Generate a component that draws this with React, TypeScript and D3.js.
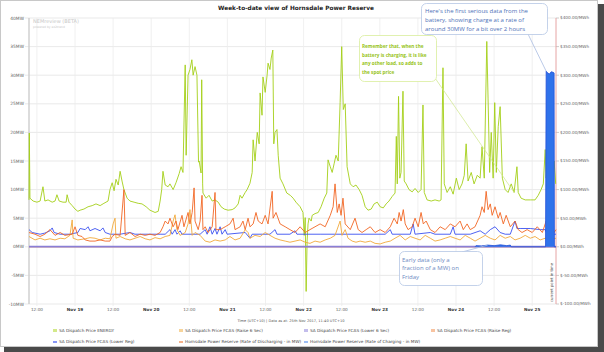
import React, { useEffect, useRef } from "react";
import * as d3 from "d3";

// hours after 18 Nov 2017 00:00 (UTC+10), value
const energy: [number, number][] = [
	[9.5, 82], [9.6, 199], [9.8, 85], [10.8, 80], [12.0, 78], [13.0, 80], [13.9, 105], [14.5, 80], [15.5, 82],
	[16.8, 78], [17.7, 80], [18.3, 91], [19.0, 80], [20.2, 78], [21.2, 78], [21.5, 91], [22.1, 78], [23.1, 72],
	[24.0, 66], [24.9, 62], [25.6, 64], [26.8, 66], [28.1, 70], [29.4, 72], [30.6, 75], [31.9, 72], [33.1, 76],
	[34.4, 80], [35.0, 100], [35.7, 112], [36.3, 98], [36.9, 118], [37.6, 108], [38.2, 132], [38.8, 115],
	[39.4, 100], [40.4, 85], [41.3, 80], [42.6, 78], [43.9, 76], [45.1, 75], [46.4, 70], [47.6, 64], [49.2, 60],
	[50.2, 62], [50.8, 80], [51.3, 100], [51.7, 132], [52.4, 108], [53.3, 105], [53.9, 110], [54.9, 100],
	[55.8, 112], [56.8, 128], [57.4, 140], [58.0, 130], [58.7, 318], [59.0, 160], [59.6, 300], [60.2, 310],
	[60.8, 327], [61.2, 300], [61.8, 315], [62.4, 300], [62.9, 148], [63.1, 150], [63.7, 129], [63.9, 292],
	[64.2, 110], [64.3, 94], [65.3, 85], [66.2, 90], [67.2, 80], [68.1, 82], [69.1, 78], [70.0, 70], [71.0, 66],
	[72.2, 64], [73.5, 65], [74.4, 68], [75.4, 75], [76.0, 90], [76.6, 85], [77.6, 95], [78.2, 100], [79.1, 111],
	[79.8, 130], [80.1, 187], [80.7, 150], [81.4, 200], [82.0, 180], [82.3, 269], [82.9, 230], [83.2, 297],
	[83.9, 270], [84.5, 300], [84.8, 321], [85.4, 310], [85.8, 330], [86.3, 344], [86.6, 180], [87.0, 200],
	[87.6, 205], [88.0, 160], [88.6, 120], [89.5, 110], [90.7, 94], [91.8, 90], [92.7, 85], [93.6, 78],
	[94.9, 70], [95.8, 60], [96.2, 20], [96.5, 51], [96.8, -78], [97.1, 10], [97.4, 40], [97.7, 50], [98.4, 45],
	[98.7, 55], [99.6, 58], [100.6, 60], [101.5, 70], [102.5, 85], [103.3, 94], [103.7, 152], [104.4, 140],
	[105.0, 130], [105.6, 145], [106.2, 160], [106.9, 150], [107.5, 252], [108.0, 350], [108.5, 240],
	[109.1, 250], [109.7, 140], [110.7, 110], [111.6, 105], [112.5, 108], [113.5, 100], [114.4, 90],
	[115.4, 70], [116.3, 64], [117.3, 66], [118.2, 75], [119.2, 78], [120.1, 70], [121.1, 68], [122.0, 75],
	[122.9, 80], [123.9, 88], [124.8, 94], [125.2, 193], [125.5, 110], [125.9, 263], [126.3, 120], [126.7, 130],
	[127.3, 272], [127.7, 115], [128.3, 110], [129.2, 100], [130.2, 96], [131.1, 102], [132.1, 95], [133.0, 100],
	[133.6, 248], [134.0, 95], [134.9, 82], [136.2, 80], [137.4, 82], [138.7, 80], [139.3, 82], [139.9, 313],
	[140.3, 110], [141.2, 95], [142.2, 105], [143.1, 92], [144.1, 120], [145.0, 100], [145.9, 110], [146.6, 125],
	[147.2, 180], [147.8, 115], [148.8, 130], [149.7, 110], [150.7, 125], [151.6, 120], [152.2, 175],
	[152.9, 120], [153.7, 359], [154.1, 260], [154.6, 130], [155.1, 200], [155.7, 120], [156.2, 252],
	[156.7, 130], [157.3, 210], [157.9, 245], [158.6, 120], [159.5, 100], [160.4, 95], [161.4, 110], [162.3, 95],
	[163.2, 140], [163.6, 95], [164.5, 85], [165.8, 82], [167.4, 82], [168.9, 82], [169.9, 90], [170.8, 100],
	[171.5, 110], [172.1, 170], [172.4, 120], [173.0, 164], [173.4, 100], [174.0, 140], [174.3, 95],
	[174.9, 150], [175.4, 110],
];

const raise6: [number, number][] = [
	[9.5, 18], [11.4, 12], [13.0, 15], [14.5, 12], [16.1, 14], [17.7, 12], [19.3, 15], [20.8, 14], [22.4, 20],
	[23.1, 47], [23.4, 15], [24.9, 12], [27.2, 14], [28.7, 16], [30.3, 15], [31.9, 12], [33.5, 15], [35.0, 14],
	[36.0, 40], [36.6, 50], [36.9, 15], [38.2, 18], [39.8, 14], [41.3, 12], [42.9, 15], [44.5, 18], [46.1, 14],
	[47.6, 12], [49.2, 16], [50.8, 14], [52.4, 18], [53.9, 20], [54.9, 45], [55.5, 56], [56.1, 30], [57.1, 20],
	[58.7, 25], [59.6, 40], [60.2, 65], [60.9, 20], [61.8, 25], [63.4, 20], [65.0, 10], [66.5, 8], [68.1, 12],
	[69.7, 10], [71.3, 12], [72.8, 18], [74.4, 12], [76.0, 15], [77.6, 30], [78.5, 25], [79.1, 15], [80.7, 20],
	[82.3, 18], [83.9, 25], [85.4, 20], [87.0, 15], [88.6, 12], [90.2, 10], [91.7, 8], [93.3, 10], [94.9, 12],
	[96.5, 8], [98.0, 6], [99.6, 10], [101.2, 8], [102.8, 12], [104.4, 15], [105.9, 20], [107.5, 45], [108.1, 20],
	[109.1, 30], [110.0, 15], [111.3, 10], [112.5, 8], [113.8, 10], [115.4, 8], [117.0, 10], [118.5, 6],
	[120.1, 5], [121.7, 8], [123.3, 10], [124.8, 15], [126.4, 20], [128.0, 12], [129.6, 18], [131.1, 15],
	[132.7, 12], [134.3, 20], [135.9, 15], [137.4, 10], [139.0, 12], [140.6, 15], [142.2, 18], [143.7, 15],
	[145.3, 12], [146.9, 20], [148.5, 15], [150.0, 10], [151.6, 15], [153.2, 20], [154.8, 15], [156.3, 12],
	[157.9, 20], [159.5, 15], [161.1, 18], [162.6, 12], [164.2, 15], [165.8, 20], [167.4, 15], [168.9, 18],
	[170.5, 12], [172.1, 15], [173.7, 12], [175.5, 15],
];

const raiseReg: [number, number][] = [
	[9.5, 25], [11.4, 22], [13.0, 18], [14.5, 22], [16.1, 30], [17.7, 20], [19.3, 25], [20.8, 20], [23.1, 22],
	[24.0, 35], [24.9, 20], [26.2, 18], [27.2, 12], [28.7, 10], [30.3, 10], [31.9, 12], [33.5, 10], [35.0, 10],
	[35.7, 18], [36.6, 22], [38.2, 20], [39.4, 100], [39.8, 20], [41.3, 25], [42.9, 18], [44.5, 22], [46.1, 20],
	[47.6, 22], [49.2, 20], [50.8, 25], [51.7, 35], [52.4, 45], [53.3, 40], [53.9, 50], [54.9, 35], [55.8, 45],
	[56.4, 30], [57.7, 55], [58.3, 35], [59.6, 60], [60.2, 40], [60.9, 60], [61.5, 103], [61.8, 45], [62.8, 30],
	[63.4, 45], [64.0, 90], [64.3, 30], [65.0, 35], [65.9, 25], [67.2, 35], [68.1, 95], [68.4, 30], [69.7, 30],
	[71.3, 35], [72.8, 40], [73.8, 50], [74.4, 30], [76.0, 35], [76.9, 45], [77.6, 30], [78.5, 50], [79.1, 35],
	[80.1, 40], [81.0, 60], [81.7, 45], [82.9, 40], [83.9, 55], [84.8, 40], [86.1, 97], [86.4, 50], [87.3, 60],
	[88.6, 40], [90.2, 35], [91.7, 30], [93.3, 25], [94.9, 35], [96.5, 25], [98.0, 30], [99.6, 35], [101.2, 40],
	[102.8, 35], [104.4, 55], [105.3, 70], [105.9, 110], [106.6, 60], [107.2, 75], [107.8, 55], [108.4, 85],
	[109.1, 40], [110.7, 30], [112.2, 50], [113.2, 30], [114.4, 25], [115.7, 30], [117.0, 35], [118.5, 25],
	[120.1, 30], [121.7, 25], [123.3, 35], [124.5, 50], [125.5, 40], [126.1, 60], [126.7, 45], [127.4, 65],
	[128.0, 40], [128.9, 30], [130.2, 35], [131.1, 50], [132.1, 35], [133.0, 60], [133.7, 40], [134.6, 45],
	[135.9, 30], [137.4, 25], [139.0, 35], [140.6, 30], [142.2, 40], [143.7, 35], [145.3, 45], [146.3, 30],
	[147.5, 40], [148.5, 30], [150.0, 35], [151.6, 55], [152.2, 70], [152.9, 60], [153.5, 97], [154.1, 65],
	[154.8, 75], [155.4, 55], [156.3, 70], [157.3, 50], [157.9, 60], [158.9, 40], [159.8, 55], [161.1, 35],
	[162.6, 45], [163.6, 30], [164.8, 25], [166.4, 30], [168.0, 25], [169.6, 35], [171.2, 25], [172.4, 45],
	[173.0, 30], [174.0, 40], [174.9, 25], [175.5, 30],
];

const lowerReg: [number, number][] = [
	[9.5, 30], [10.5, 25], [13.0, 22], [14.5, 24], [16.1, 28], [16.8, 33], [17.4, 25], [19.3, 22], [22.4, 22],
	[24.9, 25], [25.6, 32], [27.2, 30], [28.1, 35], [28.7, 28], [30.3, 32], [31.9, 28], [32.8, 33], [33.5, 25],
	[35.0, 22], [38.2, 22], [41.3, 25], [42.9, 22], [50.8, 22], [52.4, 22], [53.9, 30], [54.6, 22], [55.5, 30],
	[56.1, 22], [57.1, 28], [57.7, 22], [63.4, 22], [65.0, 30], [65.6, 22], [66.5, 35], [67.2, 22], [68.1, 32],
	[68.7, 22], [69.7, 35], [70.3, 22], [71.3, 30], [71.9, 22], [77.6, 25], [79.1, 15], [79.8, 22], [85.4, 22],
	[87.0, 30], [87.6, 22], [91.7, 22], [93.3, 28], [93.9, 22], [101.2, 22], [113.8, 22], [121.7, 22],
	[123.3, 30], [123.9, 22], [129.6, 22], [130.5, 40], [131.1, 22], [135.9, 25], [137.4, 22], [142.2, 22],
	[143.1, 35], [143.7, 22], [148.5, 22], [151.6, 28], [153.2, 22], [154.8, 30], [156.3, 35], [157.9, 25],
	[159.5, 22], [161.1, 22], [162.6, 45], [163.2, 32], [164.2, 32], [167.4, 32], [170.5, 30], [172.1, 30],
	[172.7, 22], [175.5, 22],
];

const lower6: [number, number][] = [
	[9.5, 0.3], [40, 0.3], [80, 0.3], [120, 0.3], [160, 0.3], [175.5, 0.3],
];

const discharging: [number, number][] = [
	[9.5, 0], [60, 0], [120, 0], [175.5, 0],
];

const charging: [number, number][] = [
	[9.5, 0], [150.0, 0], [150.3, 0.2], [152.0, 0.15], [154.0, 0.3], [156.0, 0.2], [158.0, 0.35], [160.0, 0.2],
	[161.1, 0.3], [161.4, 0], [172.2, 0], [172.4, 30.7], [172.9, 30.4], [173.4, 30.2], [174.0, 30.6],
	[174.6, 30.5], [174.9, 30.4], [175.0, 0], [175.5, 0],
];

const mwTicks = [-10, -5, 0, 5, 10, 15, 20, 25, 30, 35, 40];
const priceTicks = [-100, -50, 0, 50, 100, 150, 200, 250, 300, 350, 400];

const legendItems = [
	{ label: "SA Dispatch Price ENERGY", color: "#d3e98a", box: true },
	{ label: "SA Dispatch Price FCAS (Raise 6 Sec)", color: "#f7d49a", box: true },
	{ label: "SA Dispatch Price FCAS (Lower 6 Sec)", color: "#c3bdec", box: true },
	{ label: "SA Dispatch Price FCAS (Raise Reg)", color: "#f8c3a0", box: true },
	{ label: "SA Dispatch Price FCAS (Lower Reg)", color: "#3a50f0", box: false },
	{ label: "Hornsdale Power Reserve (Rate of Discharging - in MW)", color: "#f07f3c", box: false },
	{ label: "Hornsdale Power Reserve (Rate of Charging - in MW)", color: "#5d95f0", box: false },
];

const base = new Date(2017, 10, 18, 0, 0).getTime();
const t = (h: number) => new Date(base + h * 3600e3);

function draw(ref: SVGSVGElement) {
	const svg = d3.select(ref);
	svg.selectAll("*").remove();
	const font = "DejaVu Sans, Verdana, sans-serif";

	// screenshot frame + shadow
	svg.append("rect").attr("x", 4).attr("y", 4).attr("width", 600).attr("height", 348).attr("fill", "#4a4a4a");
	svg.append("rect").attr("x", 0.5).attr("y", 0.5).attr("width", 597).attr("height", 346).attr("fill", "#fff").attr("stroke", "#c8c8c8");

	const left = 29, right = 556, top = 18, bottom = 304;
	const x = d3.scaleTime().domain([t(9.5), t(175.5)]).range([left, right]);
	const yMW = d3.scaleLinear().domain([-10, 40]).range([bottom, top]);
	const yP = d3.scaleLinear().domain([-100, 400]).range([bottom, top]);

	// horizontal grid + left labels
	const g = svg.append("g");
	mwTicks.forEach((v) => {
		g.append("line").attr("x1", 25).attr("x2", right).attr("y1", yMW(v)).attr("y2", yMW(v)).attr("stroke", "#e3e3e3").attr("stroke-width", 0.8);
		g.append("text").attr("x", 24).attr("y", yMW(v)).attr("dy", "0.35em").attr("text-anchor", "end")
			.attr("font-family", font).attr("font-size", 4.4).attr("fill", "#666").text(`${v}MW`);
	});
	priceTicks.forEach((v) => {
		g.append("line").attr("x1", right).attr("x2", right + 3).attr("y1", yP(v)).attr("y2", yP(v)).attr("stroke", "#ccc");
		g.append("text").attr("x", right + 4).attr("y", yP(v)).attr("dy", "0.35em")
			.attr("font-family", font).attr("font-size", 4.2).attr("fill", "#666").text(`$${v.toFixed(2)}/MWh`);
	});

	// vertical grid + time ticks
	const ticks = d3.timeHour.every(12)!.range(t(9.5), t(175.5));
	const fmtDay = d3.timeFormat("%b %-d");
	ticks.forEach((d) => {
		const px = x(d);
		g.append("line").attr("x1", px).attr("x2", px).attr("y1", top).attr("y2", bottom + 2).attr("stroke", "#ececec").attr("stroke-width", 0.8);
		const midnight = d.getHours() === 0;
		g.append("text").attr("x", px).attr("y", 311).attr("text-anchor", "middle")
			.attr("font-family", font).attr("font-size", 4.2).attr("font-weight", midnight ? "bold" : "normal")
			.attr("fill", midnight ? "#333" : "#666").text(midnight ? fmtDay(d) : "12:00");
	});
	g.append("line").attr("x1", left).attr("x2", left).attr("y1", top).attr("y2", bottom).attr("stroke", "#d0d0d0").attr("stroke-width", 1.5);
	g.append("line").attr("x1", right).attr("x2", right).attr("y1", top).attr("y2", bottom).attr("stroke", "#e6a4a4").attr("stroke-width", 1);
	g.append("text").attr("transform", `translate(${right - 3.5},${bottom - 2}) rotate(-90)`)
		.attr("font-family", font).attr("font-size", 3.8).attr("fill", "#555").text("current point in time");

	// watermark
	svg.append("text").attr("x", 33).attr("y", 23).attr("font-family", font).attr("font-size", 5).attr("fill", "#c8c8c8").text("NEMreview (BETA)");
	svg.append("text").attr("x", 33).attr("y", 28).attr("font-family", font).attr("font-size", 3).attr("fill", "#c8c8c8").text("powered by ez2trend");

	// title
	svg.append("text").attr("x", 296).attr("y", 10).attr("text-anchor", "middle").attr("font-family", font)
		.attr("font-size", 5.8).attr("font-weight", "bold").attr("fill", "#222").text("Week-to-date view of Hornsdale Power Reserve");
	svg.append("text").attr("x", 291).attr("y", 322).attr("text-anchor", "middle").attr("font-family", font)
		.attr("font-size", 3.6).attr("fill", "#555").text("Time (UTC+10) | Data as at: 25th Nov 2017, 11:40 UTC+10");

	const plot = svg.append("g");
	const priceLine = d3.line<[number, number]>().x((d) => x(t(d[0]))).y((d) => yP(d[1]));
	const mwLine = d3.line<[number, number]>().x((d) => x(t(d[0]))).y((d) => yMW(d[1]));
	const mwArea = d3.area<[number, number]>().x((d) => x(t(d[0]))).y0(yMW(0)).y1((d) => yMW(d[1]));

	plot.append("path").attr("d", priceLine(energy)).attr("fill", "none").attr("stroke", "#a4cf17").attr("stroke-width", 0.9).attr("stroke-linejoin", "round");
	plot.append("path").attr("d", priceLine(lowerReg)).attr("fill", "none").attr("stroke", "#3a50f0").attr("stroke-width", 0.9);
	plot.append("path").attr("d", priceLine(raise6)).attr("fill", "none").attr("stroke", "#f2a93b").attr("stroke-width", 0.9);
	plot.append("path").attr("d", priceLine(raiseReg)).attr("fill", "none").attr("stroke", "#f26522").attr("stroke-width", 0.9);
	plot.append("path").attr("d", mwLine(discharging)).attr("fill", "none").attr("stroke", "#f07f3c").attr("stroke-width", 1);
	plot.append("path").attr("d", priceLine(lower6)).attr("fill", "none").attr("stroke", "#8a7fd6").attr("stroke-width", 1.8);
	plot.append("path").attr("d", mwArea(charging)).attr("fill", "#2f72ea");
	plot.append("path").attr("d", mwLine(charging.filter((d) => d[0] > 140))).attr("fill", "none").attr("stroke", "#2450d8").attr("stroke-width", 0.8);

	// callouts
	const peak = charging[11];
	const bx = x(t(peak[0])), by = yMW(peak[1]);
	svg.append("line").attr("x1", 528).attr("y1", 34).attr("x2", bx).attr("y2", by).attr("stroke", "#a9bde2").attr("stroke-width", 0.8);
	svg.append("rect").attr("x", 421.5).attr("y", 3.5).attr("width", 126).attr("height", 31).attr("rx", 5)
		.attr("fill", "#fff").attr("stroke", "#b5c6e4").attr("stroke-width", 0.8);
	["Here's the first serious data from the", "battery, showing charge at a rate of", "around 30MW for a bit over 2 hours"].forEach((s, i) => {
		svg.append("text").attr("x", 425).attr("y", 12.5 + i * 9).attr("font-family", "Open Sans, sans-serif")
			.attr("font-size", 6).attr("fill", "#4f72b8").text(s);
	});

	const ePoint = energy[energy.length - 18];
	svg.append("line").attr("x1", 435).attr("y1", 78).attr("x2", x(t(ePoint[0]))).attr("y2", yP(ePoint[1]))
		.attr("stroke", "#cfe78a").attr("stroke-width", 0.7);
	svg.append("rect").attr("x", 359.5).attr("y", 35.5).attr("width", 77).attr("height", 46).attr("rx", 5)
		.attr("fill", "#fff").attr("stroke", "#d9ee9c").attr("stroke-width", 0.8);
	["Remember that, when the", "battery is charging, it is like", "any other load, so adds to", "the spot price"].forEach((s, i) => {
		svg.append("text").attr("x", 362).attr("y", 48 + i * 8.5).attr("font-family", "Open Sans, sans-serif")
			.attr("font-size", 4.7).attr("font-weight", "bold").attr("fill", "#98c41a").text(s);
	});

	const early = charging[4];
	svg.append("line").attr("x1", 462).attr("y1", 252).attr("x2", x(t(early[0]))).attr("y2", yMW(early[1]))
		.attr("stroke", "#a9bde2").attr("stroke-width", 0.8);
	svg.append("rect").attr("x", 399.5).attr("y", 251.5).attr("width", 83).attr("height", 34).attr("rx", 5)
		.attr("fill", "#fff").attr("stroke", "#b5c6e4").attr("stroke-width", 0.8);
	["Early data (only a", "fraction of a MW) on", "Friday"].forEach((s, i) => {
		svg.append("text").attr("x", 402).attr("y", 261.5 + i * 8.7).attr("font-family", "Open Sans, sans-serif")
			.attr("font-size", 6).attr("fill", "#6d89c2").text(s);
	});

	// legend
	const cols = [53, 179, 304, 431];
	legendItems.forEach((it, i) => {
		const lx = cols[i % 4], ly = i < 4 ? 331.5 : 343;
		if (it.box) {
			svg.append("rect").attr("x", lx).attr("y", ly - 2.5).attr("width", 4).attr("height", 3).attr("fill", it.color);
		} else {
			svg.append("line").attr("x1", lx).attr("x2", lx + 4).attr("y1", ly - 1).attr("y2", ly - 1).attr("stroke", it.color).attr("stroke-width", 1.2);
		}
		svg.append("text").attr("x", lx + 6).attr("y", ly).attr("font-family", font).attr("font-size", 4.2)
			.attr("fill", "#444").text(it.label);
	});
}

export default function App() {
	const ref = useRef<SVGSVGElement>(null);
	useEffect(() => {
		if (!ref.current) return;
		draw(ref.current);
	}, []);
	return (
		<div style={{ position: "absolute", left: 0, top: 0 }}>
			<svg ref={ref} width={604} height={352} style={{ display: "block" }} />
		</div>
	);
}
